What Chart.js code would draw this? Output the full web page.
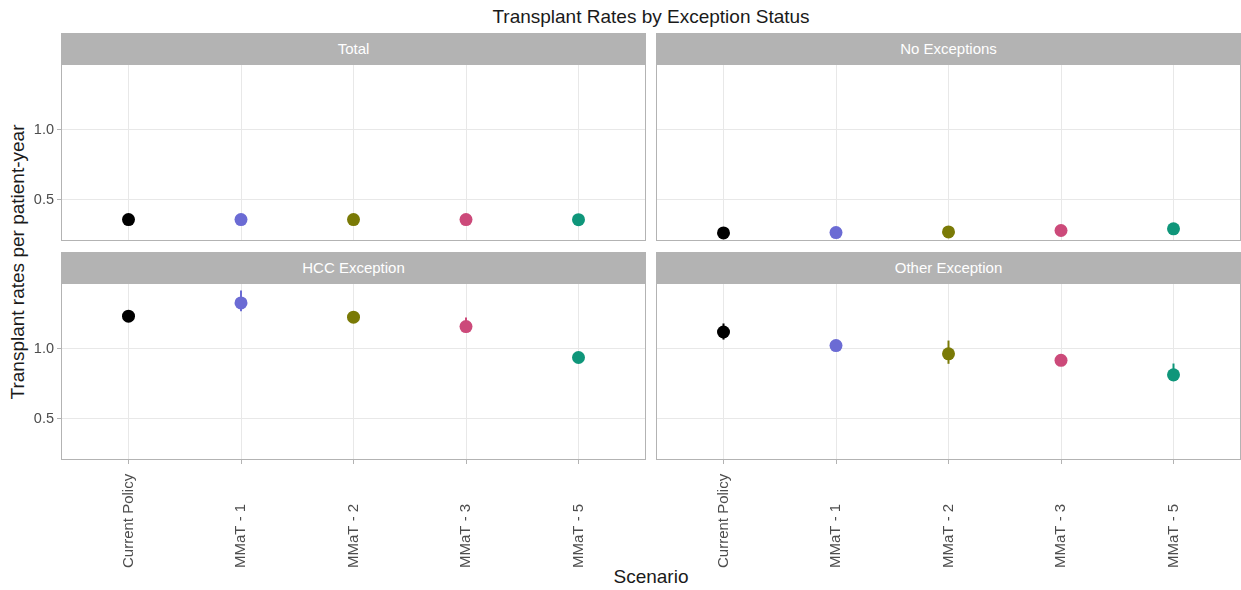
<!DOCTYPE html>
<html>
<head>
<meta charset="utf-8">
<title>Transplant Rates by Exception Status</title>
<script src="https://cdn.jsdelivr.net/npm/chart.js@4.4.1/dist/chart.umd.min.js"></script>
<style>
  html, body { margin: 0; padding: 0; background: #fff; }
  body { width: 1241px; height: 590px; position: relative; overflow: hidden;
         font-family: "Liberation Sans", Arial, Helvetica, sans-serif; }
  canvas.panel { position: absolute; }
  .strip { position: absolute; background: #b3b3b3; color: #fff; font-size: 15px;
           display: flex; align-items: center; justify-content: center; }
  .title { position: absolute; left: 61px; width: 1180px; top: 4px; text-align: center;
           font-size: 19px; color: #1a1a1a; line-height: 26px; }
  .xtitle { position: absolute; left: 61px; width: 1180px; top: 565px; text-align: center;
            font-size: 19px; color: #1a1a1a; line-height: 24px; }
  .ytitle { position: absolute; left: 18px; top: 262px; width: 400px; margin-left: -200px;
            margin-top: -12px; line-height: 24px; text-align: center; font-size: 19px;
            color: #1a1a1a; transform: rotate(-90deg); }
</style>
</head>
<body>
<div class="title">Transplant Rates by Exception Status</div>
<div class="ytitle">Transplant rates per patient-year</div>
<div class="xtitle">Scenario</div>

<div class="strip" id="s0" style="left:61px;top:33px;width:585px;height:31px;"></div>
<div class="strip" id="s1" style="left:656px;top:33px;width:585px;height:31px;"></div>
<div class="strip" id="s2" style="left:61px;top:252px;width:585px;height:31px;"></div>
<div class="strip" id="s3" style="left:656px;top:252px;width:585px;height:31px;"></div>

<canvas class="panel" id="p0" width="646" height="177" style="left:0;top:64px;"></canvas>
<canvas class="panel" id="p1" width="585" height="177" style="left:656px;top:64px;"></canvas>
<canvas class="panel" id="p2" width="646" height="289" style="left:0;top:283px;"></canvas>
<canvas class="panel" id="p3" width="585" height="289" style="left:656px;top:283px;"></canvas>

<script>
// Scenarios on the x axis and the facet names
const scenarios = ['Current Policy', 'MMaT - 1', 'MMaT - 2', 'MMaT - 3', 'MMaT - 5'];
const facets = ['Total', 'No Exceptions', 'HCC Exception', 'Other Exception'];
const yTicks = [0.5, 1.0];

// Transplant rate per patient-year, with lower / upper interval ends
const totalRate  = [0.357, 0.357, 0.357, 0.357, 0.356];
const totalLow   = [0.351, 0.351, 0.351, 0.351, 0.350];
const totalHigh  = [0.363, 0.363, 0.363, 0.363, 0.362];

const noExcRate  = [0.262, 0.264, 0.269, 0.279, 0.291];
const noExcLow   = [0.257, 0.259, 0.264, 0.273, 0.285];
const noExcHigh  = [0.267, 0.269, 0.274, 0.285, 0.297];

const hccRate    = [1.231, 1.326, 1.224, 1.157, 0.936];
const hccLow     = [1.214, 1.266, 1.208, 1.114, 0.924];
const hccHigh    = [1.248, 1.414, 1.240, 1.221, 0.948];

const otherRate  = [1.118, 1.021, 0.962, 0.916, 0.812];
const otherLow   = [1.064, 1.002, 0.891, 0.903, 0.766];
const otherHigh  = [1.179, 1.040, 1.057, 0.929, 0.893];

// One colour per scenario
const scenarioColors = ['#000000', '#6b6bd4', '#7a7a06', '#cc4a7a', '#0f967a'];

facets.forEach((f, i) => { document.getElementById('s' + i).textContent = f; });

// Vertical interval lines, drawn under the points
const errorBars = {
  id: 'errorBars',
  beforeDatasetsDraw(chart) {
    const ctx = chart.ctx, xs = chart.scales.x, ys = chart.scales.y;
    chart.data.datasets.forEach(ds => {
      ds.data.forEach((p, i) => {
        const x = xs.getPixelForValue(p.x);
        ctx.save();
        ctx.strokeStyle = scenarioColors[i];
        ctx.lineWidth = 2;
        ctx.beginPath();
        ctx.moveTo(x, ys.getPixelForValue(ds.low[i]));
        ctx.lineTo(x, ys.getPixelForValue(ds.high[i]));
        ctx.stroke();
        ctx.restore();
      });
    });
  }
};

// Grey frame around each panel
const panelFrame = {
  id: 'panelFrame',
  afterDraw(chart) {
    const a = chart.chartArea, ctx = chart.ctx;
    ctx.save();
    ctx.strokeStyle = '#b3b3b3';
    ctx.lineWidth = 1;
    ctx.strokeRect(a.left + 0.5, a.top + 0.5, a.right - a.left - 1, a.bottom - a.top - 1);
    ctx.restore();
  }
};

// Vertical scenario labels, left-aligned from a common baseline
const scenarioLabels = {
  id: 'scenarioLabels',
  afterDraw(chart, args, opts) {
    if (!opts.show) return;
    const ctx = chart.ctx, xs = chart.scales.x;
    const base = chart.chartArea.bottom + 108;
    ctx.save();
    ctx.fillStyle = '#4d4d4d';
    ctx.font = '15px "Liberation Sans", Arial, sans-serif';
    ctx.textAlign = 'left';
    ctx.textBaseline = 'middle';
    scenarios.forEach((s, i) => {
      const x = xs.getPixelForValue(i);
      ctx.save();
      ctx.translate(x, base);
      ctx.rotate(-Math.PI / 2);
      ctx.fillText(s, 0, 0);
      ctx.restore();
    });
    ctx.restore();
  }
};

function makePanel(id, rate, low, high, showY, showX) {
  new Chart(document.getElementById(id), {
    type: 'scatter',
    data: {
      datasets: [{
        data: rate.map((v, i) => ({ x: i, y: v })),
        low: low,
        high: high,
        pointRadius: 6.5,
        pointHoverRadius: 6.5,
        pointBorderWidth: 0,
        pointBackgroundColor: scenarioColors,
        pointBorderColor: scenarioColors,
        clip: false
      }]
    },
    options: {
      responsive: false,
      animation: false,
      events: [],
      layout: { padding: 0, autoPadding: false },
      plugins: {
        legend: { display: false },
        tooltip: { enabled: false },
        scenarioLabels: { show: showX }
      },
      scales: {
        x: {
          type: 'linear',
          min: -0.6,
          max: 4.6,
          afterBuildTicks: s => { s.ticks = scenarios.map((_, i) => ({ value: i })); },
          ticks: { display: false },
          grid: { color: '#e8e8e8', lineWidth: 1, drawTicks: showX, tickLength: 4, tickColor: '#b3b3b3' },
          border: { display: false },
          afterFit: s => { s.height = showX ? 112 : 0; s.paddingLeft = 0; s.paddingRight = 0; }
        },
        y: {
          min: 0.204,
          max: 1.468,
          afterBuildTicks: s => { s.ticks = yTicks.map(v => ({ value: v })); },
          ticks: {
            display: showY,
            color: '#4d4d4d',
            font: { size: 14.5, family: '"Liberation Sans", Arial, sans-serif' },
            padding: 3,
            callback: v => v.toFixed(1)
          },
          grid: { color: '#e8e8e8', lineWidth: 1, drawTicks: showY, tickLength: 4, tickColor: '#b3b3b3' },
          border: { display: false },
          afterFit: s => { s.width = showY ? 61 : 0; s.paddingTop = 0; s.paddingBottom = 0; }
        }
      }
    },
    plugins: [errorBars, panelFrame, scenarioLabels]
  });
}

makePanel('p0', totalRate, totalLow, totalHigh, true, false);
makePanel('p1', noExcRate, noExcLow, noExcHigh, false, false);
makePanel('p2', hccRate, hccLow, hccHigh, true, true);
makePanel('p3', otherRate, otherLow, otherHigh, false, true);
</script>
</body>
</html>
